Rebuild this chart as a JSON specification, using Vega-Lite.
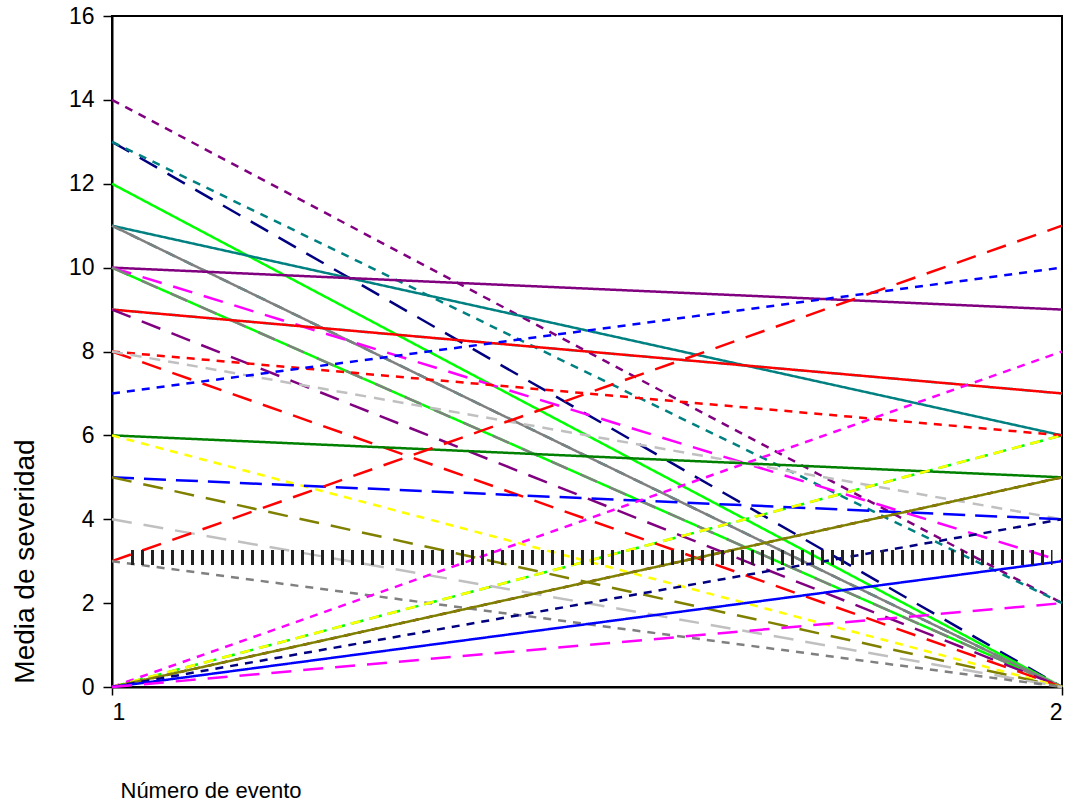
{
  "$schema": "https://vega.github.io/schema/vega-lite/v6.json",
  "width": 950,
  "height": 671,
  "autosize": {"type": "none"},
  "padding": {"left": 112, "top": 16, "right": 11, "bottom": 119},
  "background": "white",
  "config": {
    "view": {"stroke": "black", "strokeWidth": 2},
    "axis": {
      "grid": false,
      "domainColor": "black",
      "domainWidth": 2,
      "tickColor": "black",
      "tickWidth": 1.5,
      "labelFont": "Liberation Sans",
      "labelColor": "black",
      "titleFont": "Liberation Sans",
      "titleColor": "black",
      "titleFontWeight": "normal"
    }
  },
  "datasets": {
    "series": [
      {"s": "s01", "x": 1, "y": 14}, {"s": "s01", "x": 2, "y": 2},
      {"s": "s02", "x": 1, "y": 13}, {"s": "s02", "x": 2, "y": 0},
      {"s": "s03", "x": 1, "y": 13}, {"s": "s03", "x": 2, "y": 2},
      {"s": "s04", "x": 1, "y": 12}, {"s": "s04", "x": 2, "y": 0},
      {"s": "s05", "x": 1, "y": 11}, {"s": "s05", "x": 2, "y": 6},
      {"s": "s06", "x": 1, "y": 11}, {"s": "s06", "x": 2, "y": 0},
      {"s": "s07", "x": 1, "y": 11}, {"s": "s07", "x": 2, "y": 0},
      {"s": "s08", "x": 1, "y": 10}, {"s": "s08", "x": 2, "y": 9},
      {"s": "s09", "x": 1, "y": 10}, {"s": "s09", "x": 2, "y": 3},
      {"s": "s10", "x": 1, "y": 10}, {"s": "s10", "x": 2, "y": 0},
      {"s": "s11", "x": 1, "y": 10}, {"s": "s11", "x": 2, "y": 0},
      {"s": "s12", "x": 1, "y": 9}, {"s": "s12", "x": 2, "y": 7},
      {"s": "s13", "x": 1, "y": 9}, {"s": "s13", "x": 2, "y": 7},
      {"s": "s14", "x": 1, "y": 9}, {"s": "s14", "x": 2, "y": 0},
      {"s": "s15", "x": 1, "y": 8}, {"s": "s15", "x": 2, "y": 0},
      {"s": "s16", "x": 1, "y": 8}, {"s": "s16", "x": 2, "y": 6},
      {"s": "s17", "x": 1, "y": 8}, {"s": "s17", "x": 2, "y": 4},
      {"s": "s18", "x": 1, "y": 7}, {"s": "s18", "x": 2, "y": 10},
      {"s": "s19", "x": 1, "y": 6}, {"s": "s19", "x": 2, "y": 5},
      {"s": "s20", "x": 1, "y": 6}, {"s": "s20", "x": 2, "y": 0},
      {"s": "s21", "x": 1, "y": 5}, {"s": "s21", "x": 2, "y": 4},
      {"s": "s22", "x": 1, "y": 5}, {"s": "s22", "x": 2, "y": 0},
      {"s": "s23", "x": 1, "y": 4}, {"s": "s23", "x": 2, "y": 0},
      {"s": "s24", "x": 1, "y": 3}, {"s": "s24", "x": 2, "y": 11},
      {"s": "s25", "x": 1, "y": 3}, {"s": "s25", "x": 2, "y": 0},
      {"s": "s26", "x": 1, "y": 0}, {"s": "s26", "x": 2, "y": 8},
      {"s": "s27", "x": 1, "y": 0}, {"s": "s27", "x": 2, "y": 6},
      {"s": "s28", "x": 1, "y": 0}, {"s": "s28", "x": 2, "y": 6},
      {"s": "s29", "x": 1, "y": 0}, {"s": "s29", "x": 2, "y": 5},
      {"s": "s30", "x": 1, "y": 0}, {"s": "s30", "x": 2, "y": 5},
      {"s": "s31", "x": 1, "y": 0}, {"s": "s31", "x": 2, "y": 4},
      {"s": "s32", "x": 1, "y": 0}, {"s": "s32", "x": 2, "y": 3},
      {"s": "s33", "x": 1, "y": 0}, {"s": "s33", "x": 2, "y": 2}
    ],
    "banda": [
      {"x": 1.02, "y": 3.09},
      {"x": 1.99, "y": 3.09}
    ]
  },
  "encoding": {
    "x": {
      "field": "x", "type": "quantitative",
      "scale": {"domain": [1, 2], "nice": false, "zero": false},
      "axis": {
        "values": [1, 2], "format": "d", "tickSize": 8, "labelFontSize": 23, "labelPadding": 6,
        "title": "Número de evento", "titleFontSize": 22,
        "titleX": 8, "titleAlign": "left", "titlePadding": 56
      }
    },
    "y": {
      "field": "y", "type": "quantitative",
      "scale": {"domain": [0, 16], "nice": false},
      "axis": {
        "values": [0, 2, 4, 6, 8, 10, 12, 14, 16], "tickSize": 9, "labelFontSize": 23, "labelPadding": 9,
        "title": "Media de severidad", "titleFontSize": 28, "titleAngle": -90,
        "titleX": -87, "titleY": 545, "titleAlign": "center", "titleBaseline": "middle"
      }
    }
  },
  "layer": [
    {
      "data": {"name": "series"},
      "transform": [{"filter": {"field": "s", "oneOf": ["s06", "s10", "s12", "s27", "s29"]}}],
      "mark": {"type": "line", "strokeWidth": 2.5, "strokeCap": "butt"},
      "encoding": {
        "detail": {"field": "s"},
        "stroke": {"field": "s", "type": "nominal", "legend": null,
          "scale": {"domain": ["s01","s02","s03","s04","s05","s06","s07","s08","s09","s10","s11","s12","s13","s14","s15","s16","s17","s18","s19","s20","s21","s22","s23","s24","s25","s26","s27","s28","s29","s30","s31","s32","s33"],
                    "range": ["#800080","#000080","#008080","#00FF00","#008080","#008080","#808080","#800080","#FF00FF","#00FF00","#808080","#00FFFF","#FF0000","#800080","#FF0000","#FF0000","#C0C0C0","#0000FF","#008000","#FFFF00","#0000FF","#808000","#C0C0C0","#FF0000","#808080","#FF00FF","#00FF00","#FFFF00","#800000","#808000","#000080","#0000FF","#FF00FF"]}},
        "strokeDash": {"field": "s", "type": "nominal", "legend": null,
          "scale": {"domain": ["s01","s02","s03","s04","s05","s06","s07","s08","s09","s10","s11","s12","s13","s14","s15","s16","s17","s18","s19","s20","s21","s22","s23","s24","s25","s26","s27","s28","s29","s30","s31","s32","s33"],
                    "range": [[8,7],[20,12],[8,7],[1,0],[1,0],[10,10],[1,0],[1,0],[20,12],[1,0],[18,14],[11,8],[1,0],[20,12],[20,12],[8,7],[11,8],[8,7],[1,0],[8,7],[22,10],[20,12],[20,12],[20,12],[8,7],[8,7],[13,6],[10,9],[6,8],[1,0],[8,7],[1,0],[20,12]]}}
      }
    },
    {
      "data": {"name": "series"},
      "transform": [{"filter": {"not": {"field": "s", "oneOf": ["s06", "s10", "s12", "s27", "s29"]}}}],
      "mark": {"type": "line", "strokeWidth": 2.5, "strokeCap": "butt"},
      "encoding": {
        "detail": {"field": "s"},
        "stroke": {"field": "s", "type": "nominal", "legend": null,
          "scale": {"domain": ["s01","s02","s03","s04","s05","s06","s07","s08","s09","s10","s11","s12","s13","s14","s15","s16","s17","s18","s19","s20","s21","s22","s23","s24","s25","s26","s27","s28","s29","s30","s31","s32","s33"],
                    "range": ["#800080","#000080","#008080","#00FF00","#008080","#008080","#808080","#800080","#FF00FF","#00FF00","#808080","#00FFFF","#FF0000","#800080","#FF0000","#FF0000","#C0C0C0","#0000FF","#008000","#FFFF00","#0000FF","#808000","#C0C0C0","#FF0000","#808080","#FF00FF","#00FF00","#FFFF00","#800000","#808000","#000080","#0000FF","#FF00FF"]}},
        "strokeDash": {"field": "s", "type": "nominal", "legend": null,
          "scale": {"domain": ["s01","s02","s03","s04","s05","s06","s07","s08","s09","s10","s11","s12","s13","s14","s15","s16","s17","s18","s19","s20","s21","s22","s23","s24","s25","s26","s27","s28","s29","s30","s31","s32","s33"],
                    "range": [[8,7],[20,12],[8,7],[1,0],[1,0],[10,10],[1,0],[1,0],[20,12],[1,0],[18,14],[11,8],[1,0],[20,12],[20,12],[8,7],[11,8],[8,7],[1,0],[8,7],[22,10],[20,12],[20,12],[20,12],[8,7],[8,7],[13,6],[10,9],[6,8],[1,0],[8,7],[1,0],[20,12]]}}
      }
    },
    {
      "data": {"name": "banda"},
      "mark": {"type": "line", "strokeWidth": 15, "strokeDash": [3, 7], "color": "#222222", "strokeCap": "butt"},
      "encoding": {}
    }
  ]
}
